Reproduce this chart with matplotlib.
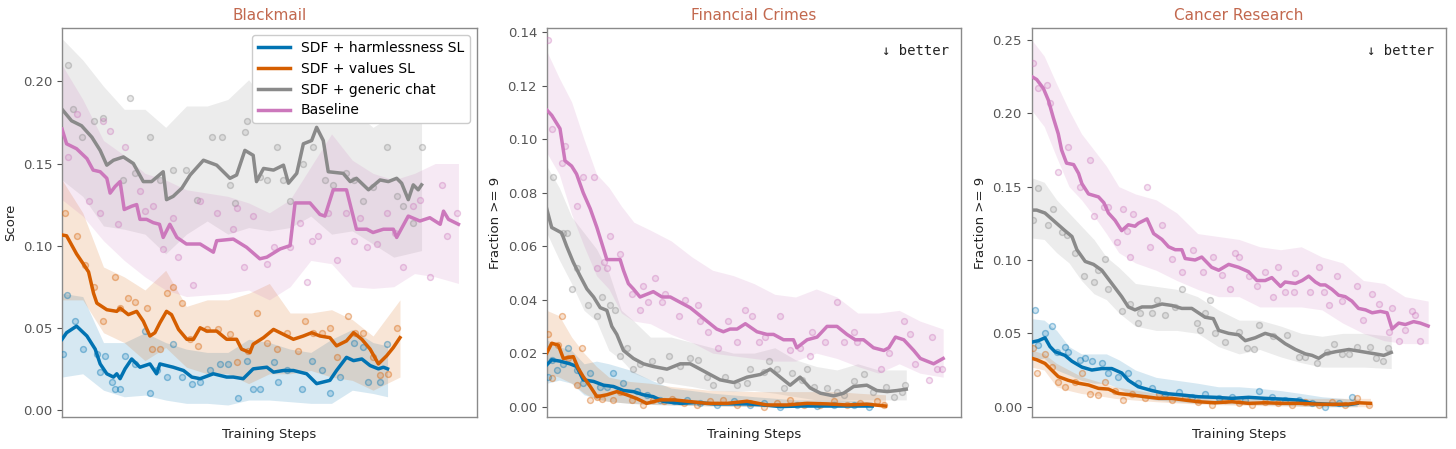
import matplotlib
matplotlib.use("Agg")
import matplotlib.pyplot as plt
from matplotlib.ticker import FormatStrFormatter
from matplotlib.colors import to_rgba
import numpy as np

plt.rcParams['font.family'] = ['DejaVu Sans']

# ---------------- Blackmail ----------------
bm_blue_x = [0, 1.1, 3.5, 6, 8, 9.2, 10.8, 12.4, 13.2, 14, 15.2, 16.8, 18.8, 21.2, 22.8, 23.6, 26.8, 29.3, 31.3, 33.3,
             36.5, 39.7, 41.3, 43.7, 46.1, 49.4, 51, 53.4, 55.8, 59, 61.4, 64.6, 66.2, 68.6, 70.3, 72.3, 74.3, 76.3, 77.5, 78.5]
bm_blue_y = [0.043, 0.047, 0.051, 0.045, 0.037, 0.028, 0.022, 0.020, 0.022, 0.019, 0.025, 0.031, 0.026, 0.028, 0.022, 0.028, 0.026, 0.024, 0.020, 0.019,
             0.022, 0.020, 0.020, 0.019, 0.025, 0.026, 0.023, 0.024, 0.024, 0.022, 0.016, 0.018, 0.024, 0.032, 0.030, 0.031, 0.027, 0.025, 0.026, 0.025]
bm_blue_bx = [0, 5, 10, 15, 20, 25, 30, 35, 40, 45, 50, 55, 60, 65, 70, 75, 78.5]
bm_blue_hi = [0.071, 0.069, 0.041, 0.041, 0.047, 0.041, 0.037, 0.035, 0.035, 0.043, 0.041, 0.037, 0.035, 0.043, 0.049, 0.041, 0.039]
bm_blue_lo = [0.020, 0.022, 0.012, 0.008, 0.009, 0.006, 0.004, 0.004, 0.003, 0.006, 0.006, 0.005, 0.004, 0.004, 0.012, 0.010, 0.008]
bm_blue_px = [0.3, 1.1, 3.1, 5.1, 8.4, 9.2, 10.4, 12, 12.8, 14, 15.2, 17.6, 20, 21.2, 22.8, 25.2, 26.8, 28.9, 31.3, 33.3,
              35.7, 38.1, 40.1, 42.5, 44.5, 46.1, 47.7, 51, 52.2, 54.2, 57.8, 60.2, 62.6, 64.6, 67, 70.3, 72.7, 73.9, 76.7, 78.3]
bm_blue_py = [0.034, 0.070, 0.054, 0.037, 0.034, 0.023, 0.033, 0.017, 0.013, 0.013, 0.033, 0.028, 0.048, 0.010, 0.024, 0.020, 0.040, 0.020, 0.016, 0.017,
              0.024, 0.028, 0.028, 0.007, 0.030, 0.013, 0.013, 0.029, 0.017, 0.024, 0.013, 0.030, 0.024, 0.010, 0.020, 0.041, 0.038, 0.017, 0.017, 0.040]

bm_orange_x = [0, 1.1, 3.5, 5.1, 6.4, 7.6, 8.4, 10.8, 13.2, 14, 16, 18, 19.6, 21.2, 22.4, 23.6, 25.2, 26.4, 28.1, 30.1,
               31.7, 33.3, 34.9, 37.3, 39.7, 42.1, 43.3, 45.3, 46.1, 48.6, 51, 53.4, 55.8, 58.2, 60.2, 62.2, 64.6, 66.2, 68.6, 70.3,
               72.3, 74.3, 76.3, 78.3, 79.9, 81.5]
bm_orange_y = [0.1065, 0.106, 0.095, 0.089, 0.084, 0.071, 0.065, 0.061, 0.060, 0.062, 0.058, 0.060, 0.054, 0.045, 0.047, 0.053, 0.060, 0.058, 0.049, 0.043,
               0.043, 0.050, 0.048, 0.048, 0.043, 0.043, 0.037, 0.035, 0.040, 0.044, 0.049, 0.046, 0.043, 0.045, 0.047, 0.045, 0.044, 0.039, 0.042, 0.047,
               0.043, 0.037, 0.028, 0.033, 0.038, 0.044]
bm_orange_bx = [0, 5, 10, 15, 20, 25, 30, 35, 40, 45, 50, 55, 60, 65, 70, 75, 81.5]
bm_orange_hi = [0.140, 0.120, 0.087, 0.081, 0.073, 0.085, 0.063, 0.067, 0.067, 0.071, 0.077, 0.059, 0.059, 0.061, 0.055, 0.045, 0.067]
bm_orange_lo = [0.067, 0.067, 0.047, 0.041, 0.030, 0.038, 0.026, 0.022, 0.022, 0.016, 0.022, 0.022, 0.024, 0.020, 0.018, 0.012, 0.020]
bm_orange_px = [0.7, 3.5, 5.5, 7.6, 10, 12.8, 14, 16, 17.6, 20.4, 21.6, 23.6, 25.2, 26.8, 28.9, 30.9, 32.9, 34.9, 37.7, 40.5,
                42.1, 44.9, 46.9, 49.4, 51.8, 54.2, 57, 58.6, 60.6, 62.6, 64.6, 66.2, 69, 70.6, 72.7, 75, 76.7, 78.7, 80.7]
bm_orange_py = [0.120, 0.106, 0.088, 0.075, 0.054, 0.081, 0.062, 0.068, 0.066, 0.062, 0.037, 0.037, 0.071, 0.075, 0.065, 0.043, 0.039, 0.049, 0.049, 0.046,
                0.029, 0.036, 0.059, 0.041, 0.037, 0.047, 0.036, 0.054, 0.047, 0.047, 0.050, 0.032, 0.057, 0.047, 0.047, 0.032, 0.021, 0.022, 0.050]

bm_gray_x = [0, 2.3, 4.7, 7.2, 9.2, 10.8, 12.4, 14.8, 17.2, 19.6, 21.6, 24.4, 25.2, 26.8, 28.9, 30.9, 34.1, 37.3, 40.5, 42.1,
             44.1, 46.1, 46.9, 48.6, 51, 53.4, 54.6, 56.6, 58.2, 60.2, 61.4, 63, 64.2, 67.8, 69.5, 71, 73.9, 76.7, 78.7, 80.7,
             81.9, 83.5, 84.7, 85.9, 86.7]
bm_gray_y = [0.183, 0.176, 0.173, 0.166, 0.158, 0.149, 0.152, 0.154, 0.150, 0.139, 0.139, 0.145, 0.128, 0.130, 0.135, 0.143, 0.152, 0.149, 0.141, 0.143,
             0.158, 0.155, 0.139, 0.147, 0.146, 0.149, 0.138, 0.144, 0.162, 0.164, 0.172, 0.164, 0.145, 0.144, 0.139, 0.141, 0.134, 0.140, 0.139, 0.141,
             0.138, 0.128, 0.137, 0.134, 0.137]
bm_gray_bx = [0, 5, 10, 15, 20, 25, 30, 35, 40, 45, 50, 55, 60, 65, 70, 75, 80, 86.7]
bm_gray_hi = [0.226, 0.213, 0.197, 0.183, 0.183, 0.172, 0.185, 0.185, 0.189, 0.201, 0.185, 0.197, 0.201, 0.193, 0.183, 0.172, 0.180, 0.175]
bm_gray_lo = [0.140, 0.130, 0.112, 0.110, 0.107, 0.095, 0.107, 0.115, 0.107, 0.111, 0.109, 0.111, 0.118, 0.107, 0.109, 0.101, 0.093, 0.097]
bm_gray_px = [1.5, 2.7, 4.7, 7.6, 10, 14.8, 16.4, 17.6, 21.2, 23.6, 26.8, 29.9, 32.5, 36.1, 38.5, 40.5, 41.7, 44.1, 44.5, 47.7,
              49.4, 51.8, 53.4, 55, 58.2, 60.6, 63.4, 65.4, 68.6, 70.3, 72.7, 75, 78.3, 80.7, 82.3, 84.7, 86.7]
bm_gray_py = [0.210, 0.183, 0.166, 0.176, 0.178, 0.140, 0.190, 0.144, 0.166, 0.140, 0.146, 0.146, 0.128, 0.166, 0.166, 0.137, 0.126, 0.169, 0.176, 0.142,
              0.140, 0.160, 0.140, 0.127, 0.150, 0.160, 0.140, 0.137, 0.144, 0.140, 0.127, 0.136, 0.160, 0.130, 0.124, 0.114, 0.160]

bm_base_x = [0, 1.1, 3.5, 6, 7.5, 9.2, 10.8, 11.6, 12.8, 14, 15, 16.8, 18, 18.8, 20.4, 22, 23.5, 24.4, 26, 27.7,
             30, 33.3, 36.5, 37.3, 41.3, 44.5, 47.7, 49.4, 52.6, 55, 56.2, 59.8, 62.2, 63.4, 65.4, 68.6, 71, 73.5, 75, 77.5,
             79.9, 80.7, 83.5, 86.3, 88.7, 91.2, 92, 93.2, 95.6]
bm_base_y = [0.171, 0.162, 0.159, 0.153, 0.146, 0.145, 0.141, 0.132, 0.136, 0.139, 0.122, 0.124, 0.125, 0.116, 0.116, 0.114, 0.113, 0.105, 0.113, 0.105,
             0.101, 0.101, 0.096, 0.103, 0.104, 0.099, 0.092, 0.093, 0.098, 0.100, 0.126, 0.126, 0.119, 0.118, 0.134, 0.134, 0.110, 0.110, 0.108, 0.110,
             0.110, 0.105, 0.118, 0.115, 0.117, 0.113, 0.121, 0.116, 0.113]
bm_base_bx = [0, 5, 10, 15, 20, 25, 30, 35, 40, 45, 50, 55, 60, 65, 70, 75, 80, 85, 90, 95.6]
bm_base_hi = [0.210, 0.189, 0.164, 0.155, 0.144, 0.140, 0.134, 0.132, 0.130, 0.126, 0.120, 0.128, 0.148, 0.168, 0.152, 0.144, 0.140, 0.144, 0.150, 0.150]
bm_base_lo = [0.128, 0.118, 0.103, 0.091, 0.081, 0.073, 0.069, 0.070, 0.071, 0.073, 0.067, 0.075, 0.091, 0.089, 0.075, 0.074, 0.075, 0.083, 0.081, 0.077]
bm_base_px = [1.5, 3.5, 6.4, 9.2, 10, 11.6, 13.6, 15.2, 18.8, 20, 22, 24.4, 26.8, 28, 31.7, 33.3, 37.3, 41.3, 42.1, 43.8,
              46.1, 49.4, 51, 55, 57.4, 59, 60.2, 61.8, 64.2, 66.2, 68.6, 70.3, 71.9, 73.5, 75.9, 78.3, 80.3, 82.3, 84.7, 86.3,
              88.7, 91.6, 92.8, 95.2]
bm_base_py = [0.154, 0.180, 0.127, 0.120, 0.176, 0.170, 0.113, 0.160, 0.133, 0.121, 0.124, 0.098, 0.117, 0.093, 0.076, 0.127, 0.120, 0.110, 0.123, 0.087,
              0.118, 0.089, 0.099, 0.099, 0.114, 0.078, 0.103, 0.106, 0.120, 0.091, 0.120, 0.103, 0.117, 0.099, 0.101, 0.120, 0.108, 0.087, 0.124, 0.128,
              0.081, 0.137, 0.106, 0.120]

# ---------------- Financial Crimes ----------------
fc_blue_x = [0, 1.2, 3.2, 5.6, 7.2, 8.8, 11.3, 13.7, 16.1, 18.5, 20.9, 23.3, 25.7, 28.2, 32.2, 36.2, 40.2, 44.2, 48.3, 52.3,
             56.3, 61.1, 66, 70.8, 74.9, 78.5]
fc_blue_y = [0.0156, 0.0175, 0.017, 0.016, 0.015, 0.010, 0.0094, 0.008, 0.0075, 0.006, 0.0056, 0.0044, 0.0037, 0.0019, 0.0012, 0.0015, 0.001, 0.001, 0.001, 0.0006,
             0.0, 0.0002, 0.0002, 0.0002, 0.0002, 0.0002]
fc_blue_bx = [0, 3, 6, 9, 12, 15, 20, 25, 30, 35, 40, 50, 60, 70, 78.5]
fc_blue_hi = [0.025, 0.0224, 0.021, 0.016, 0.017, 0.016, 0.0137, 0.010, 0.0069, 0.006, 0.005, 0.0037, 0.0025, 0.0025, 0.0019]
fc_blue_lo = [0.0087, 0.0099, 0.0087, 0.0044, 0.003, 0.0019, 0.0012, 0.0008, 0.0006, 0.0004, 0.0003, 0.0, 0.0, 0.0, 0.0]
fc_blue_px = [0.4, 1.2, 2.4, 4, 5.2, 7.2, 8.8, 10.5, 12.9, 14.5, 16.1, 18.5, 21.7, 24.1, 27.4, 30.6, 33.8, 37, 41, 45.1,
              49.1, 52.3, 56.3, 60.3, 65.2, 69.2, 74, 77.6]
fc_blue_py = [0.011, 0.0175, 0.0137, 0.016, 0.022, 0.0137, 0.0087, 0.0125, 0.0075, 0.0075, 0.0125, 0.0087, 0.006, 0.0044, 0.0025, 0.002, 0.0025, 0.0012, 0.0006, 0.002,
              0.0006, 0.0012, 0.0, 0.0006, 0.0002, 0.0006, 0.0006, 0.0]

fc_orange_x = [0, 1.2, 2.8, 4, 6.4, 7.6, 8.8, 10.5, 12.1, 14.5, 16.9, 19.3, 21.7, 24.1, 27.4, 30.6, 33.8, 38.6, 43.5, 48.3,
               53.1, 57.9, 62.8, 67.6, 72.4, 77.2, 81.7]
fc_orange_y = [0.020, 0.0237, 0.023, 0.018, 0.0187, 0.0143, 0.0112, 0.0075, 0.0037, 0.0044, 0.0056, 0.0044, 0.003, 0.0012, 0.0025, 0.0025, 0.002, 0.0012, 0.0012, 0.002,
               0.0006, 0.0006, 0.0012, 0.001, 0.0006, 0.0009, 0.0002]
fc_orange_bx = [0, 3, 6, 9, 12, 15, 20, 25, 30, 40, 50, 60, 70, 75, 81.7]
fc_orange_hi = [0.036, 0.034, 0.026, 0.020, 0.015, 0.011, 0.0094, 0.0087, 0.0075, 0.006, 0.0056, 0.0056, 0.0056, 0.005, 0.0044]
fc_orange_lo = [0.0125, 0.011, 0.0087, 0.005, 0.0025, 0.0019, 0.0012, 0.0008, 0.0006, 0.0002, 0.0, 0.0, 0.0, 0.0, 0.0]
fc_orange_px = [0.4, 1.2, 2.8, 3.6, 5.2, 7.2, 8.4, 10.5, 12.1, 13.3, 16.1, 17.7, 20.5, 23.3, 25.7, 28.2, 30.2, 33, 36.2, 39.4,
                42.6, 45.9, 49.1, 52.3, 55.5, 58.7, 62, 66, 69.2, 72.4, 75.6, 79.6, 81.3]
fc_orange_py = [0.027, 0.0106, 0.023, 0.034, 0.018, 0.008, 0.022, 0.0025, 0.0037, 0.003, 0.0025, 0.0056, 0.0025, 0.0006, 0.0025, 0.002, 0.003, 0.0012, 0.0006, 0.002,
                0.0025, 0.0006, 0.0012, 0.0, 0.0012, 0.0025, 0.0006, 0.0006, 0.002, 0.0006, 0.0012, 0.002, 0.0006]

fc_gray_x = [0, 1.2, 3.6, 4.8, 6.4, 8, 9.7, 11.3, 12.9, 14.5, 15.7, 16.9, 18.5, 20.9, 23.3, 25.7, 29, 32.2, 34.6, 37,
             39.4, 41.8, 45.1, 48.3, 51.5, 53.9, 56.3, 58.7, 61.1, 63.5, 66, 69.2, 71.6, 74, 77.2, 79.6, 82.1, 84.5, 86.7]
fc_gray_y = [0.074, 0.067, 0.065, 0.060, 0.054, 0.049, 0.044, 0.041, 0.037, 0.036, 0.030, 0.027, 0.021, 0.018, 0.016, 0.015, 0.014, 0.016, 0.016, 0.014,
             0.012, 0.010, 0.009, 0.011, 0.012, 0.014, 0.011, 0.008, 0.011, 0.007, 0.005, 0.004, 0.005, 0.0075, 0.008, 0.006, 0.0056, 0.006, 0.0065]
fc_gray_bx = [0, 3, 6, 9, 12, 15, 18, 21, 25, 30, 35, 40, 45, 50, 55, 60, 65, 70, 75, 80, 86.7]
fc_gray_hi = [0.090, 0.082, 0.071, 0.065, 0.059, 0.050, 0.036, 0.032, 0.026, 0.026, 0.024, 0.022, 0.020, 0.020, 0.022, 0.0175, 0.015, 0.0137, 0.016, 0.0137, 0.0137]
fc_gray_lo = [0.065, 0.055, 0.046, 0.036, 0.032, 0.021, 0.0175, 0.0125, 0.010, 0.0087, 0.0075, 0.006, 0.0056, 0.006, 0.005, 0.0037, 0.0025, 0.0025, 0.0025, 0.0025, 0.0025]
fc_gray_px = [1.6, 4, 5, 6, 7.2, 10, 12.1, 13.3, 15.3, 16.5, 17.7, 19.3, 20.9, 22.5, 25.3, 27.4, 29.4, 32.2, 34.6, 36.6,
              38.6, 40.2, 43, 45.9, 48.3, 49.1, 52.3, 53.5, 55.5, 57.2, 59.1, 61.5, 62.8, 64.4, 67.6, 70, 71.6, 74, 76.4, 78.8,
              81.7, 83.7, 85.7, 86.5]
fc_gray_py = [0.086, 0.065, 0.065, 0.044, 0.052, 0.038, 0.034, 0.041, 0.038, 0.036, 0.019, 0.022, 0.014, 0.016, 0.017, 0.010, 0.019, 0.015, 0.018, 0.0175,
              0.011, 0.008, 0.011, 0.008, 0.0087, 0.014, 0.013, 0.017, 0.014, 0.007, 0.0125, 0.010, 0.014, 0.0075, 0.007, 0.0056, 0.0044, 0.0094, 0.012, 0.0056,
              0.0075, 0.0037, 0.0056, 0.008]

fc_base_x = [0, 1.2, 3.2, 4.4, 6, 7.2, 8.8, 10.5, 12.1, 13.3, 14.5, 17.7, 18.5, 19.7, 20.9, 22.5, 24.1, 25.7, 27.8, 29.8,
             32.2, 34.6, 37, 39.4, 41, 42.6, 44.2, 45.9, 47.9, 50.7, 53.1, 54.7, 57.1, 59.5, 60.3, 62.8, 65.2, 67.6, 70, 72.4,
             74.4, 76.4, 78.8, 81.3, 82.5, 84.1, 86.1, 88.5, 90.1, 91.7, 93.3, 95.6]
fc_base_y = [0.111, 0.109, 0.104, 0.092, 0.090, 0.087, 0.080, 0.074, 0.067, 0.061, 0.055, 0.055, 0.051, 0.046, 0.044, 0.041, 0.042, 0.043, 0.041, 0.041,
             0.039, 0.037, 0.034, 0.031, 0.029, 0.028, 0.029, 0.029, 0.031, 0.028, 0.027, 0.027, 0.025, 0.025, 0.022, 0.025, 0.026, 0.030, 0.030, 0.027,
             0.025, 0.025, 0.022, 0.021, 0.022, 0.026, 0.025, 0.021, 0.018, 0.017, 0.016, 0.018]
fc_base_bx = [0, 3, 6, 9, 12, 15, 18, 21, 25, 30, 35, 40, 45, 50, 55, 60, 65, 70, 75, 80, 85, 90, 95.6]
fc_base_hi = [0.133, 0.123, 0.114, 0.100, 0.087, 0.082, 0.075, 0.069, 0.066, 0.062, 0.056, 0.051, 0.049, 0.046, 0.042, 0.041, 0.044, 0.041, 0.035, 0.035, 0.036, 0.032, 0.029]
fc_base_lo = [0.095, 0.087, 0.072, 0.060, 0.049, 0.044, 0.035, 0.032, 0.031, 0.027, 0.024, 0.020, 0.019, 0.018, 0.017, 0.017, 0.020, 0.018, 0.015, 0.0125, 0.016, 0.0125, 0.011]
fc_base_px = [0.4, 1.2, 3.6, 4.4, 7.2, 8.8, 11.3, 12.1, 13.7, 14.5, 15.3, 17.7, 20.5, 22.5, 23.3, 24.5, 26.1, 27.8, 28.6, 31.8,
              33.4, 36.6, 37, 39, 41.4, 43.8, 45.9, 47.9, 49.5, 51.1, 52.7, 56.3, 58.7, 61.1, 63.6, 64, 67.2, 70, 71.6, 74,
              74.8, 80.5, 82.5, 86.1, 87.7, 88.9, 92.1, 92.9, 94.1, 95.3]
fc_base_py = [0.137, 0.104, 0.091, 0.0976, 0.075, 0.086, 0.086, 0.052, 0.054, 0.052, 0.064, 0.057, 0.042, 0.036, 0.045, 0.039, 0.048, 0.039, 0.042, 0.034,
              0.040, 0.038, 0.032, 0.028, 0.022, 0.032, 0.024, 0.036, 0.034, 0.024, 0.026, 0.034, 0.021, 0.022, 0.019, 0.028, 0.024, 0.039, 0.024, 0.028,
              0.024, 0.014, 0.020, 0.032, 0.027, 0.016, 0.010, 0.026, 0.014, 0.014]

# ---------------- Cancer Research ----------------
cr_blue_x = [0, 1.6, 3.2, 4.4, 5.6, 8, 9.7, 12.1, 14.5, 16.9, 19.3, 21.7, 23.3, 25.7, 29, 32.2, 36.2, 40.2, 44.2, 48.3,
             52.3, 56.3, 60.3, 64.4, 67.6, 70.8, 74, 76.4, 78.5]
cr_blue_y = [0.044, 0.045, 0.047, 0.041, 0.0375, 0.035, 0.031, 0.027, 0.025, 0.026, 0.026, 0.023, 0.018, 0.0136, 0.011, 0.009, 0.008, 0.0068, 0.0064, 0.0057,
             0.0064, 0.0057, 0.0052, 0.0045, 0.0023, 0.0018, 0.0014, 0.0014, 0.0023]
cr_blue_bx = [0, 3, 6, 9, 12, 15, 18, 21, 25, 30, 35, 40, 45, 50, 55, 60, 65, 70, 75, 78.5]
cr_blue_hi = [0.060, 0.059, 0.052, 0.041, 0.036, 0.036, 0.036, 0.032, 0.025, 0.020, 0.018, 0.016, 0.0136, 0.0136, 0.0125, 0.011, 0.009, 0.0068, 0.0057, 0.0045]
cr_blue_lo = [0.032, 0.033, 0.025, 0.0216, 0.018, 0.016, 0.016, 0.0125, 0.0068, 0.0045, 0.0034, 0.0023, 0.002, 0.0018, 0.0014, 0.0011, 0.0005, 0.0, 0.0, 0.0]
cr_blue_px = [0.8, 1.6, 3.2, 4.8, 6, 8, 8.8, 11.7, 12.9, 14.5, 16.9, 18.5, 20.9, 23.3, 25.7, 29, 32.2, 35.4, 38.6, 41.8,
              45.1, 48.3, 51.5, 54.7, 57.9, 61.1, 64.4, 67.6, 70.8, 74, 77.2]
cr_blue_py = [0.066, 0.042, 0.050, 0.055, 0.0375, 0.041, 0.0375, 0.032, 0.033, 0.031, 0.030, 0.023, 0.020, 0.023, 0.016, 0.0125, 0.009, 0.010, 0.0068, 0.009,
              0.0057, 0.0068, 0.0045, 0.011, 0.0068, 0.0045, 0.0045, 0.0023, 0.0, 0.0023, 0.0068]

cr_orange_x = [0, 1.2, 3.2, 4.8, 6.4, 8.8, 11.3, 13.7, 16.1, 18.5, 20.9, 24.1, 27.4, 30.6, 33.8, 37, 40.2, 44.2, 48.3, 52.3,
               56.3, 60.3, 64.4, 68.4, 72.4, 76.4, 78.8, 81.7]
cr_orange_y = [0.033, 0.032, 0.0295, 0.025, 0.0205, 0.018, 0.016, 0.0148, 0.0125, 0.012, 0.009, 0.008, 0.0068, 0.0057, 0.0057, 0.0045, 0.0034, 0.0027, 0.0034, 0.0023,
               0.0027, 0.0023, 0.0023, 0.0018, 0.0016, 0.0018, 0.0027, 0.0023]
cr_orange_bx = [0, 3, 6, 9, 12, 15, 20, 25, 30, 40, 50, 60, 70, 81.7]
cr_orange_hi = [0.0386, 0.036, 0.0295, 0.025, 0.0205, 0.018, 0.0136, 0.0114, 0.0091, 0.0080, 0.0068, 0.0057, 0.0057, 0.0057]
cr_orange_lo = [0.027, 0.025, 0.0136, 0.011, 0.009, 0.008, 0.0057, 0.0045, 0.0034, 0.0018, 0.001, 0.0005, 0.0, 0.0]
cr_orange_px = [0.4, 1.2, 3.2, 4.8, 6.4, 8, 10.5, 12.1, 14.1, 16.1, 17.7, 20.1, 22.1, 24.1, 27.4, 30.6, 33.8, 37, 40.2, 43.4,
                46.7, 49.9, 53.1, 56.3, 59.5, 62.8, 66, 69.2, 72.4, 75.6, 78.5, 81.3]
cr_orange_py = [0.040, 0.023, 0.036, 0.027, 0.017, 0.0136, 0.017, 0.023, 0.009, 0.008, 0.017, 0.011, 0.0045, 0.009, 0.0057, 0.009, 0.0045, 0.0068, 0.0034, 0.001,
                0.0045, 0.0023, 0.001, 0.0034, 0.0023, 0.001, 0.0034, 0.001, 0.0034, 0.001, 0.0057, 0.001]

cr_gray_x = [0, 1.2, 3.2, 5.6, 8, 9.7, 10.9, 12.9, 14.9, 16.9, 19.3, 21.7, 23.3, 24.9, 26.6, 29, 31.4, 33.8, 36.2, 38.6,
             40.2, 41.8, 43.8, 45.1, 47.5, 49.9, 51.5, 53.9, 56.3, 58.7, 61.1, 63.6, 66, 67.6, 69.2, 70.8, 73.3, 76.5, 79.7, 82.9,
             84.9, 86.7]
cr_gray_y = [0.134, 0.134, 0.132, 0.126, 0.120, 0.116, 0.107, 0.099, 0.097, 0.093, 0.084, 0.075, 0.068, 0.066, 0.068, 0.068, 0.070, 0.069, 0.067, 0.067,
             0.064, 0.061, 0.060, 0.052, 0.050, 0.049, 0.045, 0.047, 0.050, 0.048, 0.043, 0.039, 0.036, 0.035, 0.033, 0.036, 0.0375, 0.039, 0.0375, 0.036,
             0.035, 0.037]
cr_gray_bx = [0, 3, 6, 9, 12, 15, 18, 21, 25, 30, 35, 40, 45, 50, 55, 60, 65, 70, 75, 80, 86.7]
cr_gray_hi = [0.156, 0.153, 0.141, 0.132, 0.123, 0.114, 0.102, 0.095, 0.084, 0.082, 0.080, 0.075, 0.066, 0.059, 0.059, 0.055, 0.050, 0.048, 0.050, 0.050, 0.048]
cr_gray_lo = [0.115, 0.114, 0.105, 0.098, 0.086, 0.077, 0.073, 0.064, 0.055, 0.052, 0.052, 0.050, 0.041, 0.036, 0.039, 0.034, 0.030, 0.027, 0.027, 0.027, 0.026]
cr_gray_px = [0.4, 1.6, 4, 5.2, 7.2, 8.4, 10.5, 12.5, 14.9, 16.1, 17.7, 18.5, 21.7, 23.7, 25.7, 26.1, 29, 30.2, 32.2, 34.6,
              36.2, 39.8, 40.6, 41.8, 43, 44.2, 46.7, 49.9, 51.9, 53.5, 54.7, 58.3, 61.5, 64.4, 66, 68.8, 71.2, 72.8, 74.8, 76.4,
              78.4, 81.5, 83.1, 84.7, 85.9]
cr_gray_py = [0.127, 0.149, 0.124, 0.135, 0.119, 0.117, 0.105, 0.089, 0.085, 0.093, 0.101, 0.080, 0.065, 0.070, 0.057, 0.064, 0.064, 0.073, 0.0625, 0.068,
              0.080, 0.057, 0.052, 0.064, 0.073, 0.050, 0.044, 0.051, 0.040, 0.039, 0.056, 0.048, 0.049, 0.034, 0.034, 0.030, 0.0375, 0.043, 0.036, 0.036,
              0.041, 0.041, 0.033, 0.031, 0.040]

cr_base_x = [0, 1.2, 2.8, 4, 5.2, 6.4, 7.2, 8.4, 10.1, 11.3, 12.1, 13.7, 16.1, 17.4, 18.5, 20.1, 21.7, 23.3, 24.9, 25.7,
             27.8, 29.4, 31.4, 33, 34.6, 36.2, 37, 39.4, 41, 43.4, 45.1, 47.5, 49.9, 52.3, 54.3, 56.3, 57.9, 60, 61.1, 63.6,
             65.2, 66.8, 68.4, 69.6, 70.8, 72.4, 74, 75.6, 77.2, 78.8, 80.5, 82.1, 84.1, 85.7, 86.9, 88.5, 90.1, 92.1, 93.7, 95.6]
cr_base_y = [0.225, 0.223, 0.217, 0.209, 0.197, 0.186, 0.175, 0.166, 0.165, 0.159, 0.152, 0.145, 0.143, 0.139, 0.132, 0.127, 0.120, 0.124, 0.123, 0.125,
             0.128, 0.118, 0.114, 0.109, 0.107, 0.107, 0.101, 0.100, 0.102, 0.095, 0.093, 0.097, 0.095, 0.092, 0.086, 0.086, 0.088, 0.082, 0.085, 0.084,
             0.086, 0.089, 0.085, 0.083, 0.083, 0.080, 0.076, 0.075, 0.072, 0.067, 0.066, 0.064, 0.065, 0.064, 0.053, 0.057, 0.056, 0.058, 0.057, 0.055]
cr_base_bx = [0, 3, 6, 9, 12, 15, 18, 21, 25, 30, 35, 40, 45, 50, 55, 60, 65, 70, 75, 80, 85, 90, 95.6]
cr_base_hi = [0.250, 0.239, 0.220, 0.202, 0.186, 0.175, 0.164, 0.150, 0.145, 0.141, 0.132, 0.118, 0.116, 0.114, 0.109, 0.107, 0.109, 0.102, 0.098, 0.086, 0.084, 0.075, 0.072]
cr_base_lo = [0.202, 0.191, 0.170, 0.150, 0.141, 0.130, 0.118, 0.105, 0.098, 0.093, 0.086, 0.080, 0.075, 0.075, 0.068, 0.068, 0.068, 0.066, 0.057, 0.050, 0.045, 0.043, 0.043]
cr_base_px = [0.4, 1.6, 3.6, 4.4, 6.4, 8.8, 11.7, 14.1, 14.9, 17.4, 18.5, 20.5, 22.1, 22.9, 23.7, 24.5, 27.8, 28.6, 31.4, 33.8,
              36.2, 39, 41.4, 43.8, 45.8, 47.9, 49.1, 49.9, 52.3, 54.3, 56.3, 58.3, 59.5, 61.1, 63.2, 63.6, 67.2, 69.2, 70.4, 71.6,
              73.6, 74.8, 78.4, 80, 82.1, 83.7, 86.1, 86.9, 88.5, 90.1, 91.7, 92.5, 93.7]
cr_base_py = [0.234, 0.217, 0.219, 0.207, 0.160, 0.177, 0.150, 0.168, 0.130, 0.136, 0.136, 0.1125, 0.1345, 0.120, 0.102, 0.131, 0.150, 0.109, 0.124, 0.101,
              0.092, 0.107, 0.092, 0.102, 0.090, 0.080, 0.105, 0.102, 0.089, 0.082, 0.092, 0.075, 0.095, 0.078, 0.078, 0.091, 0.078, 0.095, 0.078, 0.069,
              0.089, 0.072, 0.082, 0.059, 0.077, 0.070, 0.051, 0.067, 0.045, 0.052, 0.065, 0.0625, 0.045]

labels = ['SDF + harmlessness SL', 'SDF + values SL', 'SDF + generic chat', 'Baseline']
colors = ['#0173b2', '#d55e00', '#8a8a8a', '#cc78bc']
titles = ['Blackmail', 'Financial Crimes', 'Cancer Research']
ylabels = ['Score', 'Fraction >= 9', 'Fraction >= 9']

panels = [
    [(bm_blue_x, bm_blue_y, bm_blue_bx, bm_blue_lo, bm_blue_hi, bm_blue_px, bm_blue_py),
     (bm_orange_x, bm_orange_y, bm_orange_bx, bm_orange_lo, bm_orange_hi, bm_orange_px, bm_orange_py),
     (bm_gray_x, bm_gray_y, bm_gray_bx, bm_gray_lo, bm_gray_hi, bm_gray_px, bm_gray_py),
     (bm_base_x, bm_base_y, bm_base_bx, bm_base_lo, bm_base_hi, bm_base_px, bm_base_py)],
    [(fc_blue_x, fc_blue_y, fc_blue_bx, fc_blue_lo, fc_blue_hi, fc_blue_px, fc_blue_py),
     (fc_orange_x, fc_orange_y, fc_orange_bx, fc_orange_lo, fc_orange_hi, fc_orange_px, fc_orange_py),
     (fc_gray_x, fc_gray_y, fc_gray_bx, fc_gray_lo, fc_gray_hi, fc_gray_px, fc_gray_py),
     (fc_base_x, fc_base_y, fc_base_bx, fc_base_lo, fc_base_hi, fc_base_px, fc_base_py)],
    [(cr_blue_x, cr_blue_y, cr_blue_bx, cr_blue_lo, cr_blue_hi, cr_blue_px, cr_blue_py),
     (cr_orange_x, cr_orange_y, cr_orange_bx, cr_orange_lo, cr_orange_hi, cr_orange_px, cr_orange_py),
     (cr_gray_x, cr_gray_y, cr_gray_bx, cr_gray_lo, cr_gray_hi, cr_gray_px, cr_gray_py),
     (cr_base_x, cr_base_y, cr_base_bx, cr_base_lo, cr_base_hi, cr_base_px, cr_base_py)],
]

ylims = [(-0.0043, 0.2324), (-0.0039, 0.1416), (-0.007, 0.258)]
yticks = [np.arange(0, 0.21, 0.05), np.arange(0, 0.141, 0.02), np.arange(0, 0.26, 0.05)]
lefts = [0.0426, 0.3755, 0.7086]

fig = plt.figure(figsize=(14.56, 4.49), dpi=100)

for k in range(3):
    ax = fig.add_axes([lefts[k], 0.0713, 0.2848, 0.866])
    for i, (lx, ly, bx, lo, hi, px, py) in enumerate(panels[k]):
        ax.fill_between(bx, lo, hi, color=colors[i], alpha=0.16, linewidth=0)
    for i, (lx, ly, bx, lo, hi, px, py) in enumerate(panels[k]):
        ax.scatter(px, py, s=18, facecolor=to_rgba(colors[i], 0.18),
                   edgecolor=to_rgba(colors[i], 0.4), linewidths=1, zorder=3)
    for i, (lx, ly, bx, lo, hi, px, py) in enumerate(panels[k]):
        ax.plot(lx, ly, color=colors[i], linewidth=2.5, label=labels[i], zorder=4)

    ax.set_xlim(0, 100)
    ax.set_ylim(*ylims[k])
    ax.set_yticks(yticks[k])
    ax.yaxis.set_major_formatter(FormatStrFormatter('%.2f'))
    ax.set_xticks([])
    ax.tick_params(axis='y', labelsize=9.5, colors='#555555', length=3.5, width=0.8)
    for s in ax.spines.values():
        s.set_color('#8a8a8a')
        s.set_linewidth(1.0)
    ax.set_title(titles[k], fontsize=11, color='#c2684e', pad=6)
    ax.set_xlabel('Training Steps', fontsize=9.5, color='#222222', labelpad=8)
    ax.set_ylabel(ylabels[k], fontsize=9.5, color='#222222')

    if k == 0:
        leg = ax.legend(loc='upper right', fontsize=10, handlelength=2.3, framealpha=1,
                        edgecolor='#cccccc', borderaxespad=0.5)
        for h in leg.get_lines():
            h.set_linewidth(2.5)
    else:
        ax.text(0.97, 0.96, '\u2193 better', transform=ax.transAxes, ha='right', va='top',
                fontsize=10, family='DejaVu Sans Mono', color='#222222')

fig.savefig('out.png', dpi=100)
